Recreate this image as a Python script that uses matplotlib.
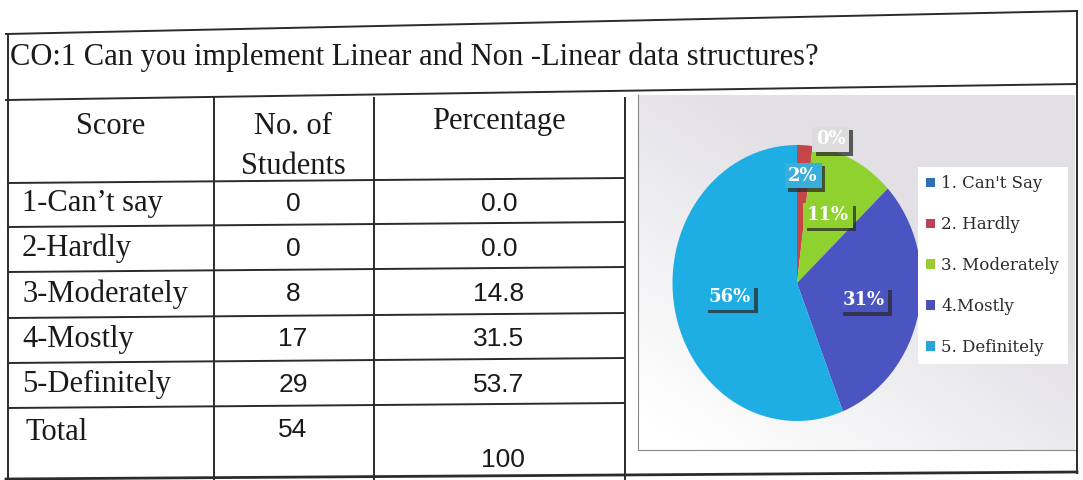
import numpy as np
import matplotlib
matplotlib.use('Agg')
import matplotlib.pyplot as plt
import matplotlib.patheffects as pe
from matplotlib.colors import LinearSegmentedColormap

# table data
title = 'CO:1 Can you implement Linear and Non -Linear data structures?'
scores = ['1-Can\u2019t say', '2-Hardly', '3-Moderately', '4-Mostly', '5-Definitely']
students = [0, 0, 8, 17, 29]
percentages = [0.0, 0.0, 14.8, 31.5, 53.7]
total_students = 54
total_pct = 100

# pie data
pie_labels = ["1. Can't Say", '2. Hardly', '3. Moderately', '4.Mostly', '5. Definitely']
pie_values = [0, 2, 11, 31, 56]

# styles
slice_colors = ['#2c6fb4', '#c4454a', '#8fd12f', '#4a55c2', '#1eaee4']
legend_colors = ['#2c6fb4', '#b8445a', '#9acd32', '#4b4fb8', '#27a5d8']
label_box_colors = ['#dcdcdc', '#3aaedb', '#8fd12f', '#4a55c2', '#1eaee4']
label_r = [1.04, 0.78, 0.55, 0.55, 0.55]
label_dx = [0.27, 0.0, 0.0, 0.0, 0.0]

W, H = 1083, 480
fig = plt.figure(figsize=(W / 100, H / 100), dpi=100)
fig.patch.set_facecolor('white')

# page axes in pixel coords
ax = fig.add_axes([0, 0, 1, 1])
ax.set_xlim(0, W)
ax.set_ylim(H, 0)
ax.axis('off')

lc = '#2b2b2b'
lw = 1.4
serif = 'Liberation Serif'
sans = 'Liberation Sans'
tc = '#1a1a1a'
col_x = [8, 214, 374, 625]

# outer frame and grid
ax.plot([6, 1077], [34, 11], color=lc, lw=lw)
ax.plot([6, 1077], [100, 84], color=lc, lw=lw)
ax.plot([8, 8], [34, 480], color=lc, lw=lw)
ax.plot([1077, 1077], [11, 473], color=lc, lw=lw)
ax.plot([6, 1077], [479, 472], color=lc, lw=2.0)
for x in col_x[1:]:
    ax.plot([x, x], [98, 479], color=lc, lw=lw)
row_lines = [183, 227, 272, 318, 363, 408]
for y in row_lines:
    ax.plot([8, 625], [y, y - 5], color=lc, lw=lw)

ax.text(10, 57, title, fontsize=22, family=serif, color=tc, va='center', ha='left')

# header
ax.text(111, 127, 'Score', fontsize=22, family=serif, ha='center', va='center', color=tc)
ax.text(293, 126, 'No. of', fontsize=22, family=serif, ha='center', va='center', color=tc)
ax.text(293, 166, 'Students', fontsize=22, family=serif, ha='center', va='center', color=tc)
ax.text(499, 122, 'Percentage', fontsize=22, family=serif, ha='center', va='center', color=tc)

for i in range(len(scores)):
    yc = (row_lines[i] + row_lines[i + 1]) / 2 - 1
    ax.text(22, yc, scores[i], fontsize=22, family=serif, ha='left', va='center', color=tc)
    ax.text(293, yc, str(students[i]), fontsize=19, family=sans, ha='center', va='center', color=tc)
    ax.text(499, yc, '%.1f' % percentages[i], fontsize=19, family=sans, ha='center', va='center', color=tc)
ax.text(26, 432, 'Total', fontsize=22, family=serif, ha='left', va='center', color=tc)
ax.text(293, 430, str(total_students), fontsize=19, family=sans, ha='center', va='center', color=tc)
ax.text(503, 460, str(total_pct), fontsize=19, family=sans, ha='center', va='center', color=tc)

# chart picture background
bx0, bx1, by0, by1 = 638, 1075, 95, 450
bg = fig.add_axes([bx0 / W, 1 - by1 / H, (bx1 - bx0) / W, (by1 - by0) / H])
gx, gy = np.meshgrid(np.linspace(0, 1, 200), np.linspace(0, 1, 200))
shade = np.clip(0.85 - 0.95 * gy + 0.8 * gx, 0, 1)
cmap = LinearSegmentedColormap.from_list('paper', ['#ffffff', '#e2e0e5'])
bg.imshow(shade, cmap=cmap, aspect='auto', extent=[0, 1, 1, 0], vmin=0, vmax=1)
bg.set_xticks([])
bg.set_yticks([])
for s in bg.spines.values():
    s.set_visible(False)
bg.spines['left'].set_visible(True)
bg.spines['bottom'].set_visible(True)
bg.spines['left'].set_color('#888888')
bg.spines['bottom'].set_color('#888888')

# pie
cx, cy, rx, ry = 797, 283, 124.5, 138
pax = fig.add_axes([(cx - rx) / W, 1 - (cy + ry) / H, 2 * rx / W, 2 * ry / H])
wedges, _ = pax.pie(pie_values, colors=slice_colors, startangle=90, counterclock=False,
                    wedgeprops=dict(linewidth=0))
pax.set_aspect('auto')
pax.set_xlim(-1, 1)
pax.set_ylim(-1, 1)
pax.axis('off')

# data labels with a drop shadow on the box
for i, w in enumerate(wedges):
    ang = np.deg2rad((w.theta1 + w.theta2) / 2)
    lx = label_r[i] * np.cos(ang) + label_dx[i]
    ly = label_r[i] * np.sin(ang)
    t = pax.text(lx, ly, '%d%%' % pie_values[i], ha='center', va='center', fontsize=13,
                 family='DejaVu Serif', fontweight='bold', color='white',
                 bbox=dict(boxstyle='square,pad=0.2', fc=label_box_colors[i], ec='none'), zorder=5)
    t.get_bbox_patch().set_path_effects([
        pe.SimplePatchShadow(offset=(2.5, -2.5), shadow_rgbFace='#2a2a2a', alpha=0.75),
        pe.Normal()])

handles = [plt.Rectangle((0, 0), 1, 1, fc=c, ec='none') for c in legend_colors]
leg = fig.legend(handles, pie_labels, loc='upper left', bbox_to_anchor=(918 / W, 1 - 167 / H),
                 borderaxespad=0, frameon=True, fancybox=False, framealpha=1,
                 prop={'family': 'DejaVu Serif', 'size': 12}, handlelength=0.5, handleheight=0.5,
                 handletextpad=0.4, labelspacing=1.43, borderpad=0.5)
leg.get_frame().set_facecolor('white')
leg.get_frame().set_edgecolor('none')
for t in leg.get_texts():
    t.set_color('#2a2a2a')

fig.savefig('out.png', dpi=100)
